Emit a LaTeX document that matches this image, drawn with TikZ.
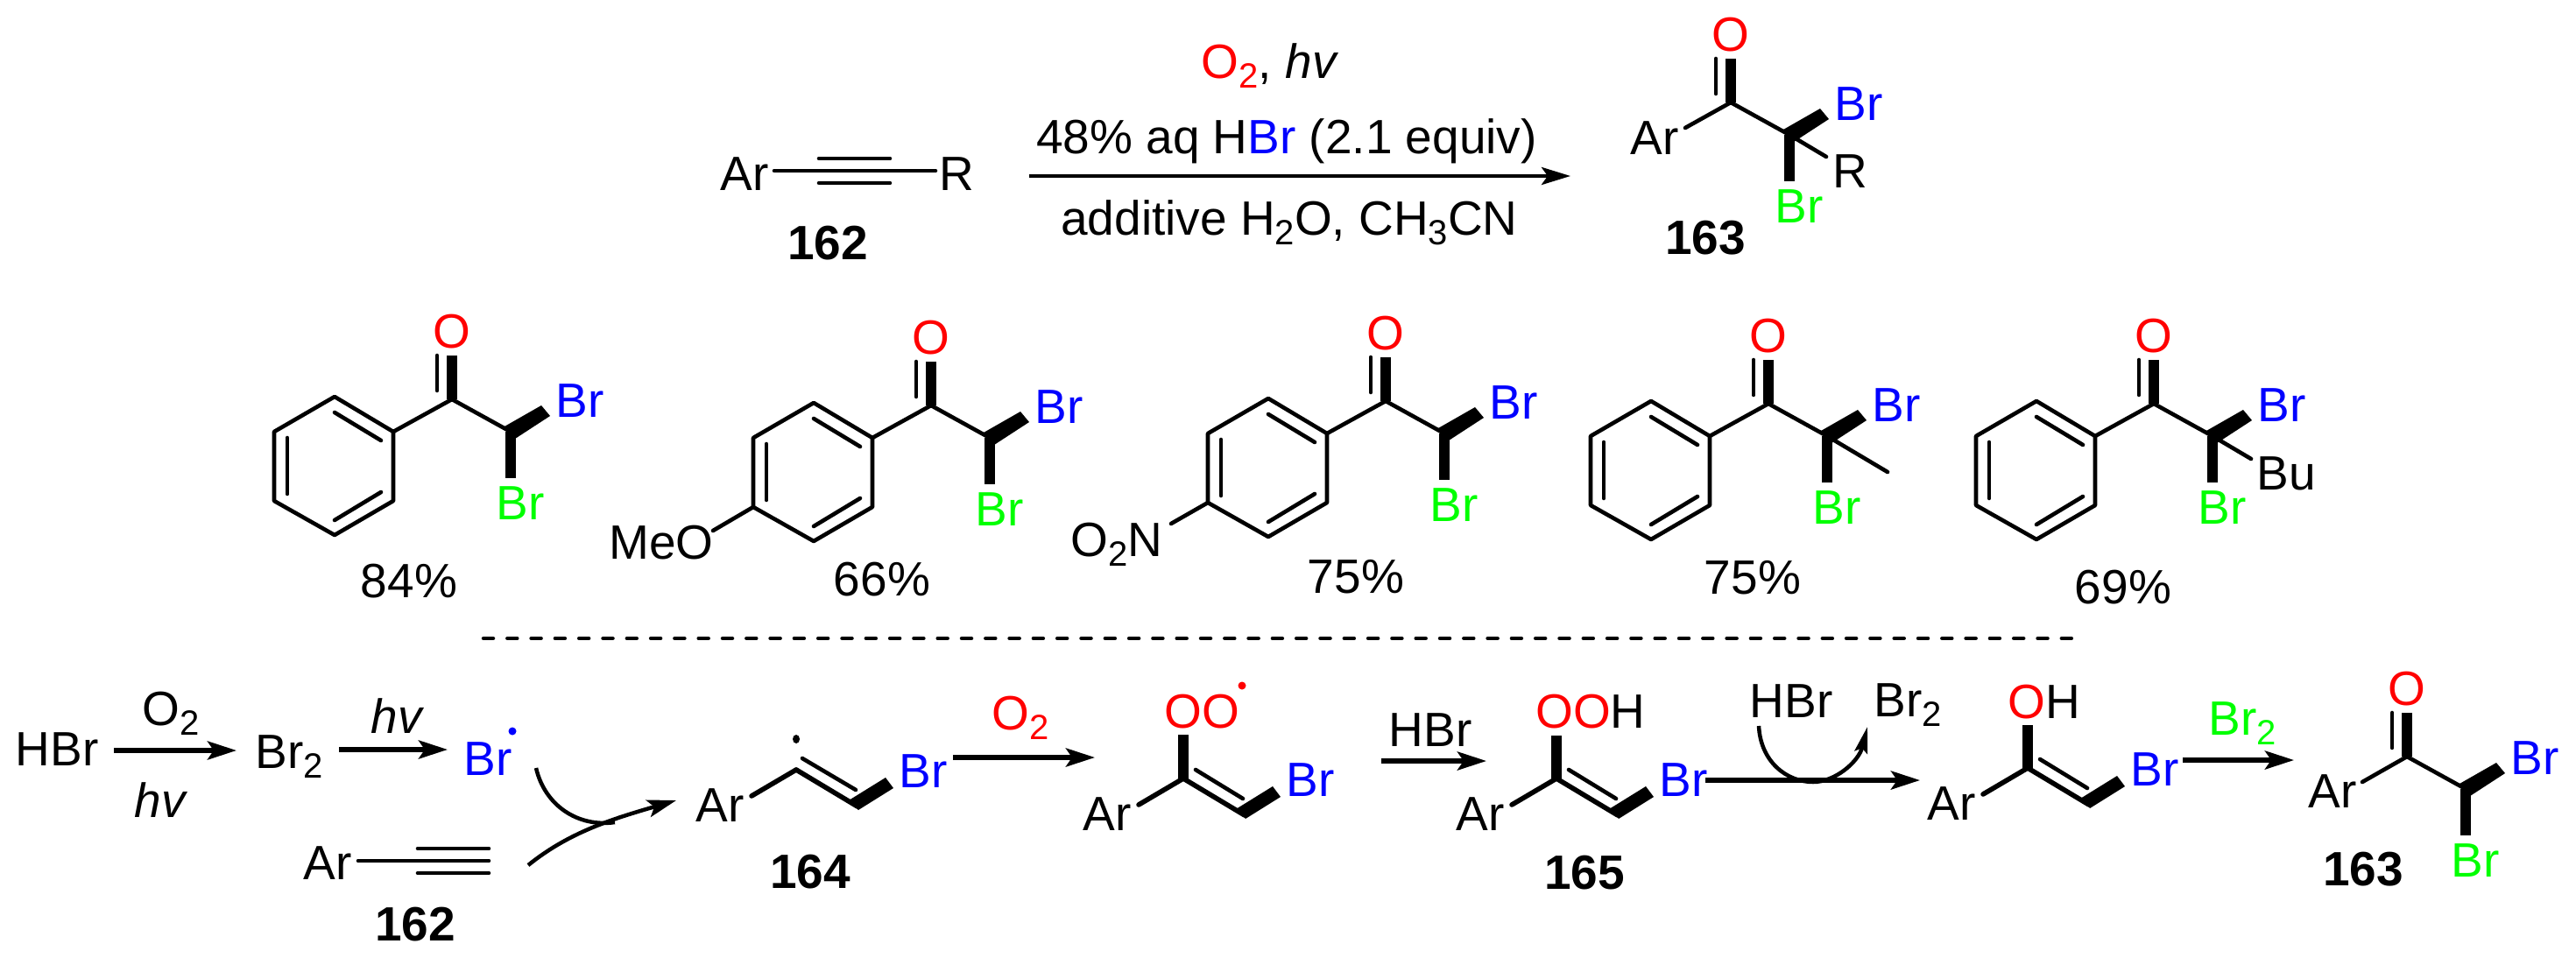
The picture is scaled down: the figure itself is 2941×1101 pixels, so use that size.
\documentclass[tikz,border=0pt]{standalone}
\usepackage{fontspec}
\setmainfont{Liberation Sans}
\usetikzlibrary{arrows.meta}
\newcommand\chemsub[1]{\raisebox{-11pt}{\fontsize{40}{40}\selectfont #1}}
\tikzset{
  lbl/.style={anchor=base,inner sep=0pt,outer sep=0pt,font=\fontsize{55}{60}\selectfont},
  num/.style={lbl,font=\fontsize{55}{60}\selectfont\bfseries},
  thinb/.style={line width=4.6pt,line cap=round,line join=round},
  wideb/.style={line width=5.6pt,line cap=round,line join=round},
  boldb/.style={line width=12pt},
  wedgeb/.style={fill=black,draw=none},
  rxn/.style={line width=5.5pt,-{Stealth[length=33pt,width=21pt,inset=7pt]}},
  rxnthin/.style={line width=4.5pt,-{Stealth[length=33pt,width=20pt,inset=7pt]}},
  curvearrow/.style={line width=4.5pt,-{Stealth[length=30pt,width=15pt,inset=5pt]}},
  curveplain/.style={line width=4.5pt},
  sep/.style={line width=4.5pt,line cap=round,dash pattern=on 11pt off 16.3pt}
}
% acyl part: carbonyl C at #2,#3, with C(Br)(Br)
\newcommand\acyl[3]{%
\begin{scope}[shift={(#2,#3)}]
  \coordinate (#1C) at (0,0);
  \coordinate (#1D) at (67,37);
  \node[lbl,text=red] (#1O) at (0,-59) {O};
  \node[lbl,text=blue] (#1BrA) at (146,20) {Br};
  \node[lbl,text=green] (#1BrB) at (78,137) {Br};
  \draw[boldb] (0,-50) -- (#1C);
  \draw[thinb] (-17,-50) -- (-17,-10);
  \draw[thinb] (#1C) -- (#1D);
  \fill[wedgeb] (60,31) -- (102,7) -- (112,19) -- (69,47) -- cycle;
  \draw[boldb] (#1D) -- (67,90);
\end{scope}}
\newcommand\phenylketone[3]{%
\acyl{#1}{#2}{#3}%
\begin{scope}[shift={(#2,#3)}]
  \coordinate (#1UR) at (-67,37);
  \coordinate (#1T) at (-134,-3);
  \coordinate (#1UL) at (-203,37);
  \coordinate (#1LL) at (-203,116);
  \coordinate (#1B) at (-134,155);
  \coordinate (#1LR) at (-67,116);
  \draw[thinb] (#1C) -- (#1UR);
  \draw[thinb] (#1UR) -- (#1T) -- (#1UL) -- (#1LL) -- (#1B) -- (#1LR) -- cycle;
  \draw[thinb] (-134,15) -- (-81,47);
  \draw[thinb] (-134,138) -- (-81,106);
  \draw[thinb] (-188,44) -- (-188,108);
\end{scope}}
% bromovinyl: C at #2,#3; #4 = start of the second double-bond line
\newcommand\enolbr[4]{%
\begin{scope}[shift={(#2,#3)}]
  \coordinate (#1C) at (0,0);
  \coordinate (#1E) at (70,42);
  \node[lbl] (#1Ar) at (-87,59) {Ar};
  \node[lbl,text=blue] (#1Br) at (145,20) {Br};
  \draw[wideb] (#1C) -- (-51,30);
  \draw[wideb] (#1C) -- (#1E);
  \draw[thinb] (#4) -- (68,23);
  \fill[wedgeb] (60,35) -- (102,9) -- (111,21) -- (71,46) -- cycle;
\end{scope}}
\begin{document}
\begin{tikzpicture}[x=1pt,y=-1pt]
\useasboundingbox (0,0) rectangle (2941,1101);
\fill[white] (0,0) rectangle (2941,1101);

%% top reaction
\node[lbl] (tAr) at (850,217) {Ar};
\node[lbl] (tR) at (1092,217) {R};
\node[num] (t162) at (945,296) {162};
\coordinate (ty1) at (884,195); \coordinate (ty2) at (1068,195);
\coordinate (ty3) at (935,181); \coordinate (ty4) at (1016,181);
\coordinate (ty5) at (935,209); \coordinate (ty6) at (1016,209);
\draw[thinb] (ty1) -- (ty2);
\draw[thinb] (ty3) -- (ty4);
\draw[thinb] (ty5) -- (ty6);
\node[lbl] (cond1) at (1450,89) {{\color{red}O\chemsub{2}}, \textit{hv}};
\node[lbl] (cond2) at (1469,175) {48\% aq H{\color{blue}Br} (2.1 equiv)};
\node[lbl] (cond3) at (1472,268) {additive H\chemsub{2}O, CH\chemsub{3}CN};
\coordinate (ta1) at (1175,201); \coordinate (ta2) at (1793,201);
\draw[rxnthin] (ta1) -- (ta2);

\acyl{p}{1976}{117}
\node[lbl] (pAr) at (1889,176) {Ar};
\coordinate (pArb) at (1924,146);
\draw[thinb] (pC) -- (pArb);
\coordinate (pRb) at (2085,179);
\draw[thinb] (pD) -- (pRb);
\node[lbl] (pR) at (2112,214) {R};
\node[num] (p163) at (1947,290) {163};

%% substrate scope
\phenylketone{a}{516}{456}
\node[lbl] (y1) at (467,682) {84\%};
\phenylketone{b}{1063}{463}
\node[lbl] (MeO) at (755,638) {MeO};
\coordinate (bOb) at (814,606);
\draw[thinb] (bLL) -- (bOb);
\node[lbl] (y2) at (1007,680) {66\%};
\phenylketone{c}{1582}{458}
\node[lbl] (NO2) at (1275,635) {O\chemsub{2}N};
\coordinate (cNb) at (1337,598);
\draw[thinb] (cLL) -- (cNb);
\node[lbl] (y3) at (1548,677) {75\%};
\phenylketone{d}{2019}{461}
\coordinate (dMe) at (2155,539);
\draw[thinb] (dD) -- (dMe);
\node[lbl] (y4) at (2001,678) {75\%};
\phenylketone{e}{2459}{461}
\coordinate (eBub) at (2570,524);
\draw[thinb] (eD) -- (eBub);
\node[lbl] (eBu) at (2610,559) {Bu};
\node[lbl] (y5) at (2424,689) {69\%};

%% separator
\coordinate (s1) at (552,729); \coordinate (s2) at (2369,729);
\draw[sep] (s1) -- (s2);

%% mechanism
\node[lbl] (HBr) at (65,874) {HBr};
\coordinate (m1a) at (130,857); \coordinate (m1b) at (270,857);
\draw[rxn] (m1a) -- (m1b);
\node[lbl] (mO) at (195,828) {O\chemsub{2}};
\node[lbl] (mhv1) at (184,933) {\textit{hv}};
\node[lbl] (mBr2) at (330,877) {Br\chemsub{2}};
\coordinate (m2a) at (387,856); \coordinate (m2b) at (511,856);
\draw[rxn] (m2a) -- (m2b);
\node[lbl] (mhv2) at (454,837) {\textit{hv}};
\node[lbl,text=blue] (mBr) at (557,885) {Br};
\fill[blue] (585,835) circle (4.5pt);
\node[lbl] (mAr) at (374,1004) {Ar};
\coordinate (my1) at (409,983); \coordinate (my2) at (558,983);
\coordinate (my3) at (477,969); \coordinate (my4) at (558,969);
\coordinate (my5) at (477,997); \coordinate (my6) at (558,997);
\draw[thinb] (my1) -- (my2);
\draw[thinb] (my3) -- (my4);
\draw[thinb] (my5) -- (my6);
\node[num] (m162) at (474,1074) {162};
\coordinate (c1a) at (612,877); \coordinate (c1b) at (702,939);
\draw[curveplain] (c1a) .. controls (622,920) and (660,945) .. (c1b);
\coordinate (c2a) at (603,988); \coordinate (c2b) at (772,914);
\draw[rxnthin] (c2a) .. controls (650,950) and (700,935) .. (c2b);

\enolbr{f}{909}{879}{7,-13}
\fill (909,844) ellipse (4pt and 5pt);
\node[num] (m164) at (925,1014) {164};

\coordinate (m3a) at (1088,865); \coordinate (m3b) at (1250,865);
\draw[rxn] (m3a) -- (m3b);
\node[lbl,text=red] (mO2r) at (1165,833) {O\chemsub{2}};

\enolbr{g}{1351}{889}{14,-10}
\coordinate (gUp) at (1351,839);
\draw[boldb] (gC) -- (gUp);
\node[lbl,text=red] (gOO) at (1372,831) {OO};
\fill[red] (1418,783) circle (4.5pt);

\coordinate (m4a) at (1577,869); \coordinate (m4b) at (1697,869);
\draw[rxn] (m4a) -- (m4b);
\node[lbl] (mHBr2) at (1633,852) {HBr};

\enolbr{h}{1777}{889}{14,-10}
\coordinate (hUp) at (1777,840);
\draw[boldb] (hC) -- (hUp);
\node[lbl] (hOOH) at (1816,831) {{\color{red}OO}H};
\node[num] (m165) at (1809,1015) {165};

\coordinate (m5a) at (1947,891); \coordinate (m5b) at (2192,891);
\draw[rxn] (m5a) -- (m5b);
\node[lbl] (mHBr3) at (2045,819) {HBr};
\node[lbl] (mBr2b) at (2178,818) {Br\chemsub{2}};
\coordinate (c3a) at (2008,829); \coordinate (c3m) at (2070,893); \coordinate (c3b) at (2132,830);
\draw[curvearrow] (c3a) .. controls (2010,870) and (2040,893) .. (c3m) .. controls (2095,893) and (2122,870) .. (c3b);

\enolbr{i}{2315}{877}{14,-10}
\coordinate (iUp) at (2315,828);
\draw[boldb] (iC) -- (iUp);
\node[lbl] (iOH) at (2334,820) {{\color{red}O}H};

\coordinate (m6a) at (2492,868); \coordinate (m6b) at (2619,868);
\draw[rxn] (m6a) -- (m6b);
\node[lbl,text=green] (mBr2g) at (2560,839) {Br\chemsub{2}};

\acyl{q}{2748}{864}
\node[lbl] (qAr) at (2663,922) {Ar};
\coordinate (qArb) at (2697,893);
\draw[thinb] (qC) -- (qArb);
\node[num] (q163) at (2698,1011) {163};
\end{tikzpicture}
\end{document}
